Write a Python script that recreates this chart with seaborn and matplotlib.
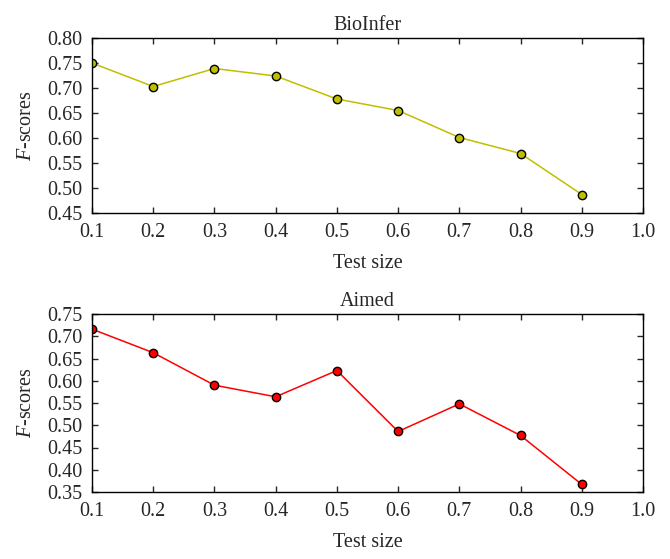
import pandas as pd
import seaborn as sns
import matplotlib.pyplot as plt

# Данные
test_size = [0.1, 0.2, 0.3, 0.4, 0.5, 0.6, 0.7, 0.8, 0.9]
bioinfer_scores = [0.750, 0.703, 0.739, 0.724, 0.678, 0.655, 0.601, 0.569, 0.487]
aimed_scores = [0.716, 0.663, 0.590, 0.564, 0.623, 0.486, 0.548, 0.477, 0.367]
x_ticks = [0.1, 0.2, 0.3, 0.4, 0.5, 0.6, 0.7, 0.8, 0.9, 1.0]
bio_yticks = [0.45, 0.50, 0.55, 0.60, 0.65, 0.70, 0.75, 0.80]
aimed_yticks = [0.35, 0.40, 0.45, 0.50, 0.55, 0.60, 0.65, 0.70, 0.75]

sns.set_style("ticks")
plt.rcParams["font.family"] = ["Liberation Serif", "DejaVu Serif"]
plt.rcParams["mathtext.fontset"] = "custom"
plt.rcParams["mathtext.it"] = "Liberation Serif:italic"
plt.rcParams["mathtext.rm"] = "Liberation Serif"

fig = plt.figure(figsize=(6.7, 5.59), dpi=100)
W, H = 670, 559
# Положение осей (в пикселях исходной картинки)
ax_top = fig.add_axes([92 / W, 1 - 213 / H, (643 - 92) / W, (213 - 38) / H])
ax_bot = fig.add_axes([92 / W, 1 - 492 / H, (643 - 92) / W, (492 - 314) / H])

FS = 14.5


def draw_panel(ax, scores, color, title, yticks):
    df = pd.DataFrame({"x": test_size, "y": scores})
    sns.lineplot(data=df, x="x", y="y", ax=ax, color=color, linewidth=1.1,
                 marker="o", markersize=6, markerfacecolor=color,
                 markeredgecolor="black", markeredgewidth=1.0)
    ax.set_xlim(0.1, 1.0)
    ax.set_ylim(yticks[0], yticks[-1])
    ax.set_xticks(x_ticks)
    ax.set_xticklabels([f"{v:.1f}" for v in x_ticks])
    ax.set_yticks(yticks)
    ax.set_yticklabels([f"{v:.2f}" for v in yticks])
    ax.tick_params(direction="in", top=True, right=True, length=4, width=1,
                   labelsize=FS, pad=7)
    for s in ax.spines.values():
        s.set_linewidth(1.0)
        s.set_color("black")
    ax.set_title(title, fontsize=FS, pad=6)
    ax.set_xlabel("Test size", fontsize=FS, labelpad=9)
    ax.set_ylabel("$F$-scores", fontsize=FS, labelpad=8)


draw_panel(ax_top, bioinfer_scores, "#bfbf00", "BioInfer", bio_yticks)
draw_panel(ax_bot, aimed_scores, "#ff0000", "Aimed", aimed_yticks)

fig.savefig("out.png", dpi=100)
